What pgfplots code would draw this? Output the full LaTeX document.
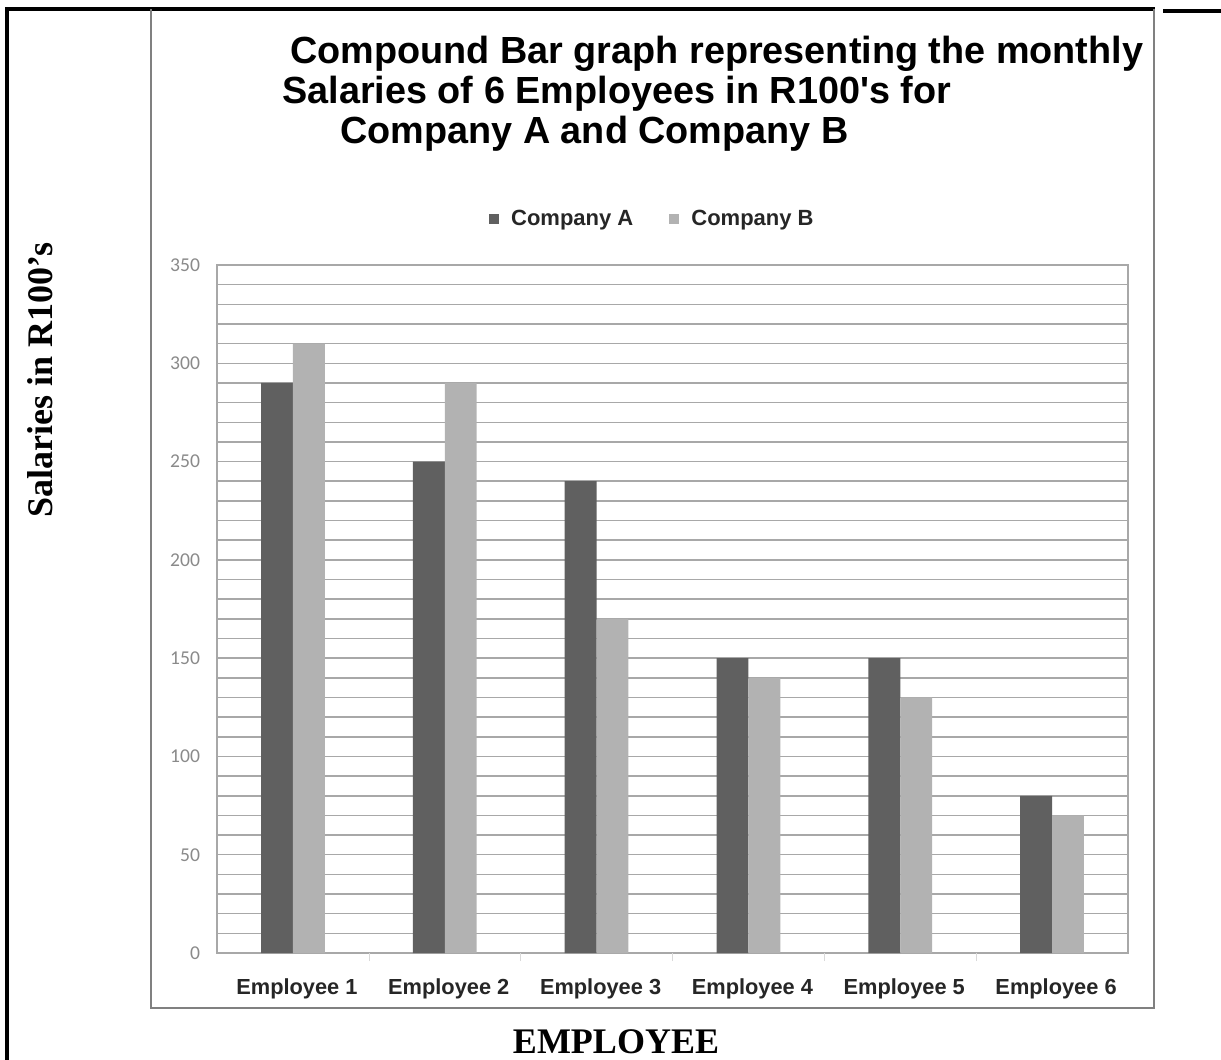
\documentclass[border=0pt]{standalone}
\usepackage{fontspec}
\setmainfont{Liberation Sans}
\newfontfamily\serifbf{Liberation Serif}
\newfontfamily\calib{Carlito}
\usepackage{pgfplots}
\pgfplotsset{compat=1.18}

\definecolor{barA}{HTML}{606060}
\definecolor{barB}{HTML}{B2B2B2}
\definecolor{gridc}{HTML}{A8A8A8}
\definecolor{tickc}{HTML}{8A8A8A}

\pgfplotstableread{
idx A   B
0   290 310
1   250 290
2   240 170
3   150 140
4   150 130
5   80  70
}\salaries

\begin{document}
\begin{tikzpicture}
\path[use as bounding box] (0,0) rectangle (610.5pt,-530pt);
% frame and texts, in pixel units of the reference
\begin{scope}[x=0.5pt,y=-0.5pt]
  \draw[line width=2pt] (7,1062) -- (7,9) -- (1155,9);
  \draw[line width=1.6pt] (1163,11) -- (1221,11);
  \draw[gray, line width=0.9pt] (151,9) -- (151,1008) -- (1154,1008) -- (1154,9);
  \node[anchor=base west, inner sep=0, font=\fontsize{18.9}{22}\selectfont\bfseries] at (290,63) {Compound Bar graph representing the monthly};
  \node[anchor=base west, inner sep=0, font=\fontsize{18.9}{22}\selectfont\bfseries] at (282,103) {Salaries of 6 Employees in R100\textquotesingle s for};
  \node[anchor=base west, inner sep=0, font=\fontsize{18.9}{22}\selectfont\bfseries] at (340,143) {Company A and Company B};
  \node[rotate=90, inner sep=0, font=\serifbf\fontsize{18}{21}\selectfont\bfseries] at (40,380) {Salaries in R100’s};
  \node[anchor=base, inner sep=0, font=\serifbf\fontsize{18}{21}\selectfont\bfseries] at (616,1053) {EMPLOYEE};
\end{scope}
\begin{axis}[
    at={(108.5pt,-476.5pt)}, anchor=south west,
    scale only axis, width=455.5pt, height=344pt,
    ybar, bar width=0.21,
    xmin=-0.5, xmax=5.5, ymin=0, ymax=350,
    xtick={0,...,5},
    xticklabels={Employee 1,Employee 2,Employee 3,Employee 4,Employee 5,Employee 6},
    xtick pos=lower,
    ytick={0,50,...,350},
    minor y tick num=4,
    ymajorgrids, yminorgrids,
    grid style={gridc, line width=0.75pt},
    minor grid style={gridc, line width=0.75pt},
    major tick length=0pt, minor tick length=0pt,
    axis line style={gridc, line width=0.75pt},
    x tick label style={font=\fontsize{10.9}{12}\selectfont\bfseries, text=black!85, yshift=-9.5pt, xshift=2pt},
    y tick label style={font=\calib\fontsize{9.8}{11}\selectfont, text=tickc, xshift=-5pt},
    /pgf/number format/assume math mode=true,
    extra x ticks={0.5,1.5,2.5,3.5,4.5},
    extra x tick labels={},
    extra x tick style={major tick length=4pt, tick align=outside, xtick pos=lower, tick style={gray!30}},
    legend style={at={(0.479,1.067)}, anchor=center, draw=none, fill=none,
        font=\fontsize{11}{13}\selectfont\bfseries, text=black!85,
        /tikz/every odd column/.append style={column sep=4pt},
        /tikz/every even column/.append style={column sep=16pt}},
    legend columns=2,
    legend image code/.code={\fill[#1] (0pt,-2.5pt) rectangle (5pt,2.5pt);},
]
\addplot[draw=none, fill=barA, bar shift=-0.105] table[x=idx, y=A] {\salaries};
\addplot[draw=none, fill=barB, bar shift=0.105] table[x=idx, y=B] {\salaries};
\legend{Company A, Company B}
\end{axis}
\end{tikzpicture}
\end{document}
